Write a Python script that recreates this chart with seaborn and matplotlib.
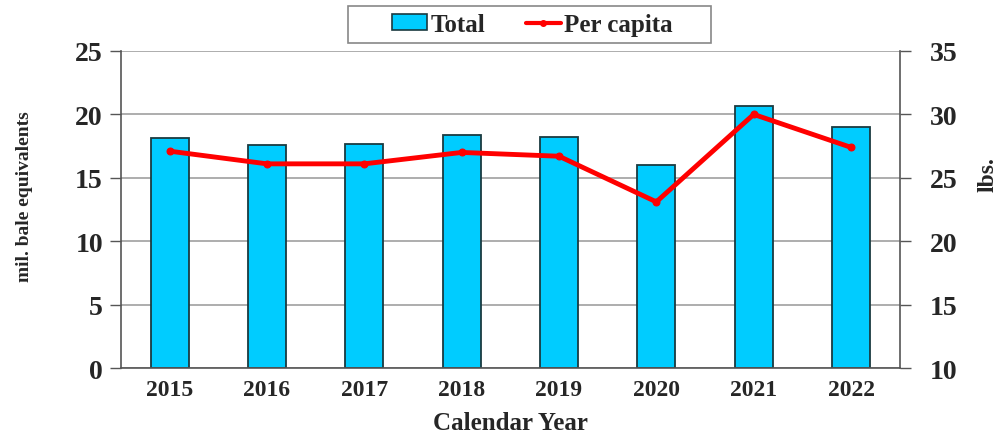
import numpy as np
import pandas as pd
import seaborn as sns
import matplotlib.pyplot as plt
from matplotlib.patches import Patch, Rectangle
from matplotlib.lines import Line2D

# data
years = ['2015', '2016', '2017', '2018', '2019', '2020', '2021', '2022']
total = [18.1, 17.6, 17.7, 18.4, 18.2, 16.0, 20.7, 19.0]
per_capita = [27.1, 26.1, 26.1, 27.0, 26.7, 23.1, 30.0, 27.4]

df = pd.DataFrame({'year': years, 'total': total, 'per_capita': per_capita})

sns.set_style('white')
plt.rcParams['font.family'] = ['Liberation Serif', 'DejaVu Serif']
plt.rcParams['font.weight'] = 'bold'

fig = plt.figure(figsize=(10.03, 4.35), dpi=100)
ax = fig.add_axes([0.1206, 0.1517, 0.7764, 0.7288])

sns.barplot(data=df, x='year', y='total', color='#00CCFF', width=0.39,
            edgecolor='#1a3a40', linewidth=1.3, saturation=1, ax=ax, zorder=2)
ax.set_xlim(-0.5, 7.5)
ax.set_ylim(0, 25)
ax.set_yticks([0, 5, 10, 15, 20, 25])
ax.yaxis.grid(True, color='#a0a0a0', linewidth=1.2, zorder=0)
ax.set_axisbelow(True)

ax2 = ax.twinx()
sns.lineplot(x=np.arange(len(years)), y=df['per_capita'], color='#ff0000',
             linewidth=3.5, marker='o', markersize=5, markeredgecolor='#ff0000',
             ax=ax2, zorder=3)
ax2.set_ylim(10, 35)
ax2.set_yticks([10, 15, 20, 25, 30, 35])

for a in (ax, ax2):
    for s in a.spines.values():
        s.set_visible(False)
ax.spines['left'].set_visible(True)
ax.spines['bottom'].set_visible(True)
ax2.spines['right'].set_visible(True)
for s in (ax.spines['left'], ax.spines['bottom'], ax2.spines['right']):
    s.set_color('#555555')
    s.set_linewidth(1.2)

ax.tick_params(axis='y', direction='out', length=8, width=1, color='#555555',
               labelsize=20, pad=5)
ax2.tick_params(axis='y', direction='out', length=8, width=1, color='#555555',
                labelsize=20, pad=14)
ax.set_xticks(np.arange(len(years)))
ax.set_xticklabels(years)
ax.tick_params(axis='x', length=0, labelsize=17, pad=8)
ax.set_xticks(np.arange(-0.5, 8, 1), minor=True)
ax.tick_params(axis='x', which='minor', direction='inout', length=8, width=1,
               color='#555555')

ax.set_xlabel('Calendar Year', fontsize=18, fontweight='bold', labelpad=8)
ax.set_ylabel('mil. bale equivalents', fontsize=14, fontweight='bold',
              fontstretch='condensed')
ax.yaxis.set_label_coords(-0.113, 0.543)
ax2.set_ylabel('lbs.', fontsize=17, fontweight='bold', rotation=90)
ax2.yaxis.set_label_coords(1.100, 0.612)

# legend box drawn separately so it can be wider than the entries
fig.patches.append(Rectangle((348 / 1003, 1 - 44 / 435), 363 / 1003, 37 / 435,
                             transform=fig.transFigure, facecolor='white',
                             edgecolor='#888888', linewidth=1.2))
handles = [Patch(facecolor='#00CCFF', edgecolor='#1a3a40', linewidth=1.2),
           Line2D([0], [0], color='#ff0000', linewidth=3, marker='o', markersize=4)]
leg = fig.legend(handles, ['Total', 'Per capita'], loc='center',
                 bbox_to_anchor=(0.531, 0.941), ncol=2, frameon=False,
                 fontsize=18, handlelength=1.4, handleheight=0.6,
                 columnspacing=1.6, handletextpad=0.15, borderaxespad=0)

fig.savefig('out.png', dpi=100)
